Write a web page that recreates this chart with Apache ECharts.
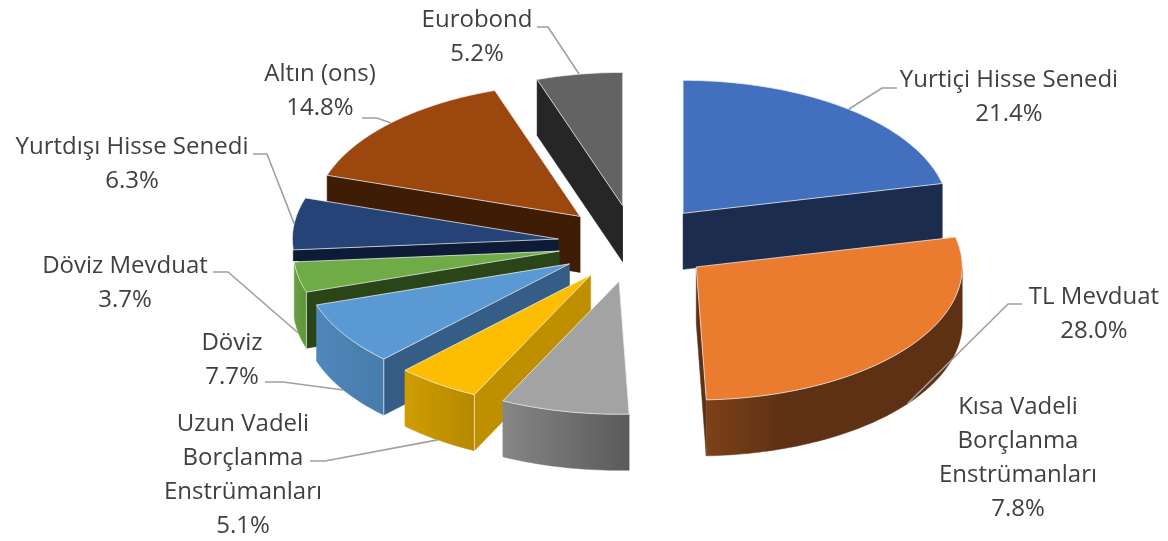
<!DOCTYPE html>
<html>
<head>
<meta charset="utf-8">
<title>Portföy dağılımı</title>
<script src="https://cdn.jsdelivr.net/npm/echarts@6/dist/echarts.min.js"></script>
<style>
  html, body { margin: 0; padding: 0; background: #fff; }
  #chart { width: 1168px; height: 541px; }
</style>
</head>
<body>
<div id="chart"></div>
<script>
// Portfolio shares, in clockwise order from twelve o'clock
const categories = ['Yurtiçi Hisse Senedi', 'TL Mevduat', 'Kısa Vadeli\nBorçlanma\nEnstrümanları',
  'Uzun Vadeli\nBorçlanma\nEnstrümanları', 'Döviz', 'Döviz Mevduat', 'Yurtdışı Hisse Senedi',
  'Altın (ons)', 'Eurobond'];
const shares = [21.4, 28.0, 7.8, 5.1, 7.7, 3.7, 6.3, 14.8, 5.2];

// Face colours of each extruded slice
const topColors = ['#4270BF', '#EA7B2F', '#A3A3A3', '#FDBD00', '#5A99D3', '#6FAB46', '#254377', '#9C470D', '#636363'];
const cutColors = ['#1B2C4E', '#5E3114', '#4A4A4A', '#BE9000', '#355D85', '#2A4518', '#0D1B36', '#3F1C04', '#262626'];
const rimFrom = ['#24417A', '#7C4118', '#868686', '#CF9D00', '#5088BC', '#669F40', '#1C3259', '#6E3209', '#484848'];
const rimTo = ['#24417A', '#5E3114', '#5A5A5A', '#B58800', '#467BAA', '#5F953B', '#1C3259', '#6E3209', '#484848'];

// Projection of the tilted pie
const CX = 635, CY = 243.5, RX = 266, RY = 133, DEPTH = 56, EXPLODE = 0.29;
const MIN_RIM_SWEEP = 0.1;

// Label anchors (centre x, top y) and the elbow where each leader leaves its label
const labelAnchors = [[1009, 63], [1094, 280], [1018, 390], [243, 407], [232, 326], [125, 249], [132, 130], [320, 57], [477, 3]];
const leaderStarts = [[[897, 88], [882, 88]], [[1022, 304], [1008, 304]], null, [[310, 461], [325, 461]],
  [[265, 382], [283, 382]], [[213, 272], [228, 272]], [[253, 154], [267, 154]], [[362, 118], [377, 118]],
  [[537, 27], [548, 27]]];

const TOTAL = shares.reduce((a, b) => a + b, 0);
const spans = [];
shares.reduce((acc, v) => {
  const next = acc + v / TOTAL * Math.PI * 2;
  spans.push([acc, next]);
  return next;
}, 0);
const midAngle = i => (spans[i][0] + spans[i][1]) / 2;
const apex = i => {
  const m = midAngle(i);
  return [CX + EXPLODE * RX * Math.sin(m), CY - EXPLODE * RY * Math.cos(m)];
};
const rimPoint = (a, th, dy) => [a[0] + RX * Math.sin(th), a[1] - RY * Math.cos(th) + (dy || 0)];

function arcPoints(a, from, to, dy) {
  const n = Math.max(2, Math.ceil((to - from) / 0.02));
  const out = [];
  for (let k = 0; k <= n; k++) out.push(rimPoint(a, from + (to - from) * k / n, dy));
  return out;
}
const down = p => [p[0], p[1] + DEPTH];

// Back slices are painted first so the front ones overlap them
const paintRank = shares.map((_, i) => i)
  .sort((p, q) => Math.cos(midAngle(q)) - Math.cos(midAngle(p)))
  .reduce((acc, slice, rank) => { acc[slice] = rank; return acc; }, {});

function renderSlice(params) {
  const i = params.dataIndex;
  const a = apex(i);
  const [start, end] = spans[i];
  const base = 10 + paintRank[i] * 10;
  const children = [];
  const wall = (p, fill, z) => children.push({
    type: 'polygon', z2: base + z, shape: { points: p }, style: { fill, stroke: fill, lineWidth: 0.5 }
  });

  const from = Math.max(start, Math.PI / 2), to = Math.min(end, Math.PI * 1.5);
  const hasRim = to - from > MIN_RIM_SWEEP;

  // Cut faces that look towards the viewer
  if (Math.sin(start) < 0) {
    const p = rimPoint(a, start);
    // With no rim below it, the outer corner stops short and stays behind the next slice
    const outer = hasRim || Math.cos(start) > 0
      ? [down(p)]
      : [[p[0], p[1] + 11], [p[0] + 6, p[1] + 11], [p[0] + 6, p[1] + DEPTH]];
    wall([a, p].concat(outer, [down(a)]), cutColors[i], 1);
  }
  if (Math.sin(end) > 0) {
    const p = rimPoint(a, end);
    wall([a, p, down(p), down(a)], cutColors[i], 1);
  }

  // Outer rim for the part of the arc on the near side; a sliver at the silhouette is skipped
  if (hasRim) {
    const upper = arcPoints(a, from, to);
    const lower = upper.map(down).reverse();
    wall(upper.concat(lower), new echarts.graphic.LinearGradient(0, 0, 1, 0, [
      { offset: 0, color: rimFrom[i] },
      { offset: i === 1 ? 0.3 : 1, color: rimTo[i] },
      { offset: 1, color: rimTo[i] }
    ]), 2);
    // Pale highlight down the corner between rim and cut face
    if (Math.sin(start) < 0 && from === start) {
      children.push({
        type: 'polyline', z2: base + 3,
        shape: { points: [upper[0], down(upper[0])] },
        style: { fill: 'none', stroke: 'rgba(255,255,255,0.65)', lineWidth: 1 }
      });
    }
  }

  // Top face
  const top = [a].concat(arcPoints(a, start, end));
  children.push({
    type: 'polygon', z2: base + 4, shape: { points: top },
    style: { fill: topColors[i], stroke: 'rgba(240,240,240,0.75)', lineWidth: 1 }
  });

  // Leader line, ending at the middle of the slice's arc
  if (leaderStarts[i]) {
    const m = midAngle(i);
    const onFront = Math.cos(m) < 0;
    const tip = rimPoint(a, m, onFront ? DEPTH : 0);
    children.push({
      type: 'polyline', z2: 200,
      shape: { points: leaderStarts[i].concat([tip]) },
      style: { fill: 'none', stroke: '#A0A0A0', lineWidth: 1.6 }
    });
  }

  // Category name and share
  children.push({
    type: 'text', z2: 210,
    x: labelAnchors[i][0], y: labelAnchors[i][1],
    style: {
      text: categories[i] + '\n' + shares[i].toFixed(1) + '%',
      fontFamily: '"Open Sans"', fontSize: 24, lineHeight: 34,
      fill: '#404040', align: 'center', verticalAlign: 'top'
    }
  });
  return { type: 'group', children };
}

const chart = echarts.init(document.getElementById('chart'), null, { renderer: 'canvas' });
chart.setOption({
  animation: false,
  backgroundColor: '#ffffff',
  series: [{
    type: 'custom',
    coordinateSystem: 'none',
    silent: true,
    data: shares,
    renderItem: renderSlice
  }]
});
</script>
</body>
</html>
